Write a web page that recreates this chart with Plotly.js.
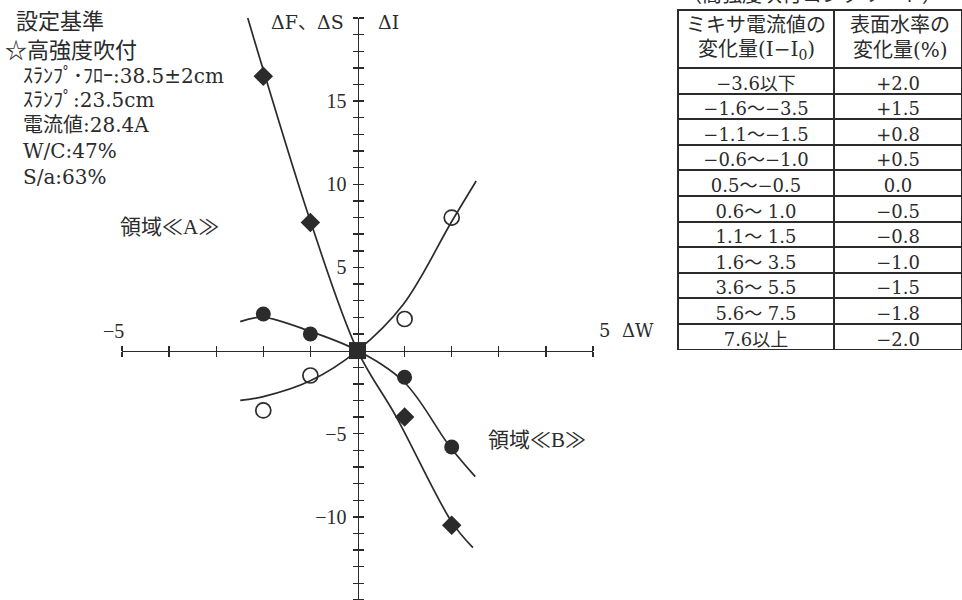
<!DOCTYPE html>
<html><head><meta charset="utf-8">
<script src="https://cdn.plot.ly/plotly-3.0.1.min.js"></script>
<style>html,body{margin:0;padding:0;background:#fff}#chart{width:962px;height:600px}</style>
</head><body><div id="chart"></div>
<script>
// ---- measured points (ΔW on x) ----
const pointX = [-2, -1, 1, 2];
const diamondY = [16.5, 7.7, -4.0, -10.5];
const filledCircleY = [2.2, 1.0, -1.6, -5.8];
const openCircleY = [-3.6, -1.5, 1.9, 8.0];
const originX = [0];
const originY = [0];

// ---- fitted curves ----
const curveFX = [-2.33, -1.96, -0.99, 0, 0.82, 2.0, 2.45];
const curveFY = [20.0, 16.5, 7.7, 0, -3.97, -10.3, -11.85];
const curveSX = [-2.49, -2.0, -0.99, 0, 1.0, 1.96, 2.5];
const curveSY = [1.74, 2.0, 1.14, 0, -1.92, -5.77, -7.58];
const curveIX = [-2.49, -2.0, -0.99, 0, 0.97, 2.0, 2.52];
const curveIY = [-3.0, -2.77, -1.8, 0, 2.77, 7.76, 10.2];

// ---- axis tick labels ----
const yTickVals = [-10, -5, 5, 10, 15];
const yTickText = ['−10', '−5', '5', '10', '15'];

// ---- table ----
const tableHeader = [['ミキサ電流値の', '変化量(I−I<sub>0</sub>)'], ['表面水率の', '変化量(%)']];
const currentChange = ['−3.6以下', '−1.6〜−3.5', '−1.1〜−1.5', '−0.6〜−1.0', '0.5〜−0.5', '0.6〜 1.0', '1.1〜 1.5', '1.6〜 3.5', '3.6〜 5.5', '5.6〜 7.5', '7.6以上'];
const moistureChange = ['+2.0', '+1.5', '+0.8', '+0.5', '0.0', '−0.5', '−0.8', '−1.0', '−1.5', '−1.8', '−2.0'];

// ---- notes ----
const noteLines = ['ｽﾗﾝﾌﾟ･ﾌﾛｰ:38.5±2cm', 'ｽﾗﾝﾌﾟ:23.5cm', '電流値:28.4A', 'W/C:47%', 'S/a:63%'];

const W = 962, H = 600;
const ink = '#2b2b2b';
const SERIF = 'Liberation Serif, Noto Sans CJK JP, serif';
const WIDE = 'DejaVu Serif, Noto Sans CJK JP, serif';
const px = v => v / W;
const py = v => 1 - v / H;

const curveLine = {color: ink, width: 1.7, shape: 'spline', smoothing: 1};
const traces = [
  {x: originX, y: originY, xaxis: 'x2', yaxis: 'y2', mode: 'markers', marker: {color: 'rgba(0,0,0,0)', size: 1}, hoverinfo: 'skip'},
  {x: curveFX, y: curveFY, mode: 'lines', line: curveLine, hoverinfo: 'skip'},
  {x: curveSX, y: curveSY, mode: 'lines', line: curveLine, hoverinfo: 'skip'},
  {x: curveIX, y: curveIY, mode: 'lines', line: curveLine, hoverinfo: 'skip'},
  {x: pointX, y: diamondY, mode: 'markers', marker: {symbol: 'diamond', size: 15, color: ink}},
  {x: pointX, y: filledCircleY, mode: 'markers', marker: {symbol: 'circle', size: 15, color: ink}},
  {x: pointX, y: openCircleY, mode: 'markers', marker: {symbol: 'circle-open', size: 15, color: ink, line: {width: 1.7, color: ink}}},
  {x: originX, y: originY, mode: 'markers', marker: {symbol: 'square', size: 17, color: ink}},
  {
    type: 'table',
    domain: {x: [678 / W, 1], y: [py(350), py(10)]},
    columnwidth: [156, 128],
    header: {
      values: ['', ''],
      align: 'center', height: 58,
      line: {color: ink, width: 2}, fill: {color: '#fff'},
      font: {family: WIDE, size: 12, color: ink}
    },
    cells: {
      values: [currentChange, moistureChange],
      align: 'center', height: 25.6,
      line: {color: ink, width: 2}, fill: {color: '#fff'},
      font: {family: WIDE, size: 18, color: ink}
    }
  }
];

const xDomain = [122 / W, 593 / W];
const yDomain = [0, 582 / H];
const xPos = 357.5 / W;
const yPos = (H - 350.6) / H;

const baseX = {domain: xDomain, range: [-5, 5], anchor: 'free', position: yPos,
  showgrid: false, zeroline: false, showticklabels: false, dtick: 1, tick0: 0,
  tickcolor: ink, tickwidth: 1.4, ticklen: 5, ticks: 'outside', fixedrange: true};
const baseY = {domain: yDomain, range: [-15, 20], anchor: 'free', position: xPos,
  showgrid: false, zeroline: false, tickcolor: ink, tickwidth: 1.4, fixedrange: true};

const headerCenters = [756, 900];
const headerRows = [25, 50];
const headerAnn = [];
tableHeader.forEach((col, c) => col.forEach((t, r) => headerAnn.push(
  {text: t, x: px(headerCenters[c]), y: py(headerRows[r]), xanchor: 'center', font: {family: WIDE, size: 20}}
)));

const annotations = [
  {text: '設定基準', x: px(14), y: py(21), xanchor: 'left', font: {size: 22}},
  {text: '☆高強度吹付', x: px(3), y: py(50), xanchor: 'left', font: {size: 22}},
  {text: '領域≪A≫', x: px(118), y: py(227), xanchor: 'left', font: {size: 21}},
  {text: '領域≪B≫', x: px(486), y: py(440), xanchor: 'left', font: {size: 21}},
  {text: 'ΔF、ΔS', x: px(346), y: py(22), xanchor: 'right', font: {family: WIDE, size: 19}},
  {text: 'ΔI', x: px(376), y: py(22), xanchor: 'left', font: {family: WIDE, size: 19}},
  {text: '−5', x: px(126), y: py(331), xanchor: 'right', font: {size: 20}},
  {text: '5  ΔW', x: px(597), y: py(330), xanchor: 'left', font: {family: WIDE, size: 18}},
  {text: '（高強度吹付コンクリート）', x: px(812), y: py(-5), xanchor: 'center', font: {size: 20}}
].concat(noteLines.map((t, i) => ({
  text: t, x: px(21), y: py([76, 100, 125, 151, 177][i]), xanchor: 'left', font: {family: WIDE, size: 20}
}))).concat(headerAnn).map(a => Object.assign({xref: 'paper', yref: 'paper', yanchor: 'middle', showarrow: false},
  a, {font: Object.assign({family: SERIF, color: ink}, a.font)}));

const layout = {
  width: W, height: H,
  margin: {l: 0, r: 0, t: 0, b: 0},
  paper_bgcolor: '#fff', plot_bgcolor: 'rgba(0,0,0,0)',
  showlegend: false,
  font: {family: SERIF, color: ink},
  xaxis: Object.assign({}, baseX, {showline: true, linecolor: ink, linewidth: 1.6, side: 'bottom'}),
  xaxis2: Object.assign({}, baseX, {side: 'top', showline: false}),
  yaxis: Object.assign({}, baseY, {
    showline: true, linecolor: ink, linewidth: 1.6, ticks: 'outside', ticklen: 5, side: 'left',
    tickvals: yTickVals, ticktext: yTickText,
    tickfont: {family: SERIF, size: 20, color: ink}, ticklabelstandoff: 2,
    minor: {dtick: 1, tick0: 0, ticks: 'outside', ticklen: 5, tickcolor: ink, tickwidth: 1.4}
  }),
  yaxis2: Object.assign({}, baseY, {side: 'right', ticks: 'outside', ticklen: 5, dtick: 1, tick0: 0, showticklabels: false, showline: false}),
  annotations: annotations
};

Plotly.newPlot('chart', traces, layout, {displayModeBar: false, staticPlot: true});
</script></body></html>
